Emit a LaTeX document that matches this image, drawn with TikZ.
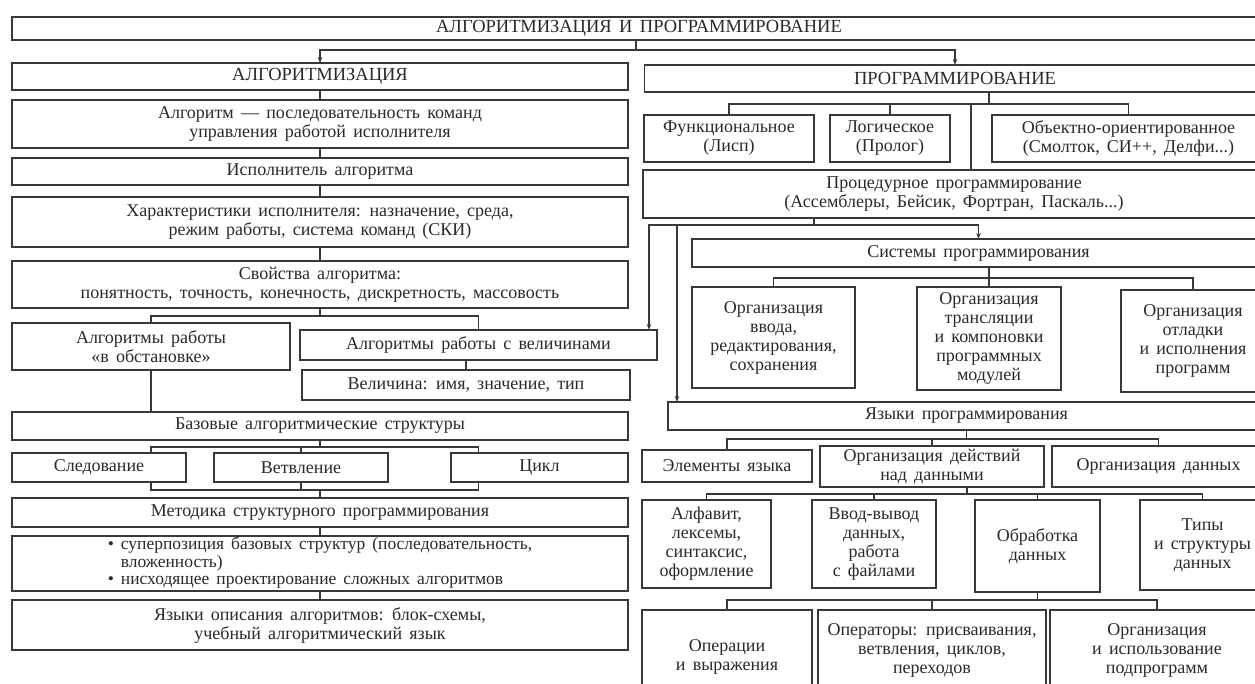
\documentclass[tikz,border=0pt]{standalone}
\usepackage{fontspec}
\setmainfont{Liberation Serif}[WordSpace=1.6]
\usetikzlibrary{arrows.meta}
\definecolor{scline}{HTML}{383838}
\definecolor{sctext}{HTML}{2A2A2A}

\begin{document}
\begin{tikzpicture}[x=1pt, y=-1pt,
  box/.style={draw=scline, line width=1.2pt, fill=white, text=sctext,
              font=\fontsize{18}{19}\selectfont, align=center,
              inner sep=1pt, outer sep=0pt},
  hdr/.style={box, font=\fontsize{18.5}{19}\selectfont},
  link/.style={draw=scline, line width=1.1pt},
  arrow/.style={link, -{Stealth[length=6pt,width=4.5pt]}},
]

  \useasboundingbox (0,0) rectangle (1255,684);
  \clip (0,0) rectangle (1255,684);
  \fill[white] (0,0) rectangle (1255,684);

  %% ── Заголовок ──
  \node[hdr, minimum width=1254, minimum height=23] (top) at (639,28.5)
    {АЛГОРИТМИЗАЦИЯ И ПРОГРАММИРОВАНИЕ};

  %% ── Алгоритмизация (левая колонка) ──
  \node[hdr, minimum width=616, minimum height=27] (alg) at (320,76.5) {АЛГОРИТМИЗАЦИЯ};
  \node[box, minimum width=616, minimum height=48] (def) at (320,124)
    {Алгоритм — последовательность команд\\управления работой исполнителя};
  \node[box, minimum width=616, minimum height=27] (isp) at (320,171.5) {Исполнитель алгоритма};
  \node[box, minimum width=616, minimum height=50] (har) at (320,222)
    {Характеристики исполнителя: назначение, среда,\\режим работы, система команд (СКИ)};
  \node[box, minimum width=616, minimum height=47] (svo) at (320,284.5)
    {Свойства алгоритма:\\понятность, точность, конечность, дискретность, массовость};
  \node[box, minimum width=278, minimum height=47] (obst) at (151,346.5)
    {Алгоритмы работы\\«в обстановке»};
  \node[box, minimum width=357, minimum height=30] (velw) at (478.5,345)
    {Алгоритмы работы с величинами};
  \node[box, minimum width=328, minimum height=30] (vel) at (466,385)
    {Величина: имя, значение, тип};
  \node[box, minimum width=616, minimum height=28] (baz) at (320,426)
    {Базовые алгоритмические структуры};
  \node[box, minimum width=174, minimum height=29] (sled) at (99,467.5) {Следование};
  \node[box, minimum width=174, minimum height=29] (vetv) at (301,467.5) {Ветвление};
  \node[box, minimum width=177, minimum height=29] (cikl) at (539.5,467.5) {Цикл};
  \node[box, minimum width=616, minimum height=29] (met) at (320,512.5)
    {Методика структурного программирования};
  \node[box, minimum width=616, minimum height=55] (sup) at (320,563.5)
    {\fontsize{17.5}{17.5}\selectfont
     \begin{tabular}{@{}l@{ }l@{}}
       • & суперпозиция базовых структур (последовательность,\\
         & вложенность)\\
       • & нисходящее проектирование сложных алгоритмов
     \end{tabular}};
  \node[box, minimum width=616, minimum height=50] (yaz) at (320,625)
    {Языки описания алгоритмов: блок-схемы,\\учебный алгоритмический язык};

  %% ── Программирование (правая колонка) ──
  \node[hdr, minimum width=621, minimum height=27] (prog) at (955,78.5) {ПРОГРАММИРОВАНИЕ};
  \node[box, minimum width=170, minimum height=47] (fun) at (729,138.5) {Функциональное\\(Лисп)};
  \node[box, minimum width=120, minimum height=47] (log) at (890,138.5) {Логическое\\(Пролог)};
  \node[box, minimum width=273, minimum height=47] (obj) at (1128.5,138.5)
    {Объектно-ориентированное\\(Смолток, СИ++, Делфи...)};
  \node[box, minimum width=622, minimum height=48] (proc) at (954,194)
    {Процедурное программирование\\(Ассемблеры, Бейсик, Фортран, Паскаль...)};
  \node[box, minimum width=573, minimum height=28] (sys) at (978.5,253) {Системы программирования};
  \node[box, minimum width=163, minimum height=101] (orgvv) at (773.5,337.5)
    {Организация\\ввода,\\редактирования,\\сохранения};
  \node[box, minimum width=144, minimum height=103] (orgtr) at (989,338.5)
    {Организация\\трансляции\\и компоновки\\программных\\модулей};
  \node[box, minimum width=144, minimum height=102] (orgot) at (1193,341)
    {Организация\\отладки\\и исполнения\\программ};
  \node[box, minimum width=597, minimum height=28] (lang) at (966.5,416) {Языки программирования};
  \node[box, minimum width=170, minimum height=32] (elem) at (727,466) {Элементы языка};
  \node[box, minimum width=224, minimum height=41] (act) at (932,466.5)
    {Организация действий\\над данными};
  \node[box, minimum width=213, minimum height=41] (dat) at (1158.5,466.5) {Организация данных};
  \node[box, minimum width=129, minimum height=88] (alf) at (706.5,544)
    {Алфавит,\\лексемы,\\синтаксис,\\оформление};
  \node[box, minimum width=124, minimum height=88] (io) at (874,544)
    {Ввод-вывод\\данных,\\работа\\с файлами};
  \node[box, minimum width=125, minimum height=92] (obr) at (1037.5,546) {Обработка\\данных};
  \node[box, minimum width=125, minimum height=90] (typ) at (1202.5,545)
    {Типы\\и структуры\\данных};
  \node[box, minimum width=170, minimum height=94] (ops) at (727,657) {Операции\\и выражения};
  \node[box, minimum width=228, minimum height=80] (opr) at (932,650)
    {Операторы: присваивания,\\ветвления, циклов,\\переходов};
  \node[box, minimum width=214, minimum height=80] (orgp) at (1157,650)
    {Организация\\и использование\\подпрограмм};

  %% ── Связи: заголовок ──
  \coordinate (tj) at (636,50);
  \draw[link] (top.south -| tj) -- (tj);
  \draw[arrow] (tj) -| (alg.north);
  \draw[arrow] (tj) -| (prog.north);

  %% ── Связи: левая колонка ──
  \draw[link] (alg.south) -- (def.north);
  \draw[link] (def.south) -- (isp.north);
  \draw[link] (isp.south) -- (har.north);
  \draw[link] (har.south) -- (svo.north);
  \draw[link] (svo.south) -- ++(0,8) coordinate (sj) -| (obst.north);
  \draw[link] (sj) -| (velw.north);
  \draw[link] (vel.north) -- (vel.north |- velw.south);
  \draw[link] (obst.south) -- (obst.south |- baz.north);

  \draw[link] (baz.south) -- ++(0,7) coordinate (bj);
  \draw[link] (sled.north -| obst.south) |- (bj) -| (cikl.north -| velw.south);
  \draw[link] (vetv.north) -- (vetv.north |- bj);
  \path (met.north) ++(0,-8) coordinate (mj);
  \draw[link] (sled.south -| obst.south) |- (mj) -| (cikl.south -| velw.south);
  \draw[link] (vetv.south) -- (vetv.south |- mj);
  \draw[link] (mj) -- (met.north);
  \draw[link] (met.south) -- (sup.north);
  \draw[link] (sup.south) -- (yaz.north);

  %% ── Связи: правая колонка ──
  \coordinate (pj) at (989,104);
  \draw[link] (prog.south -| pj) -- (pj);
  \draw[link] (fun.north) |- (pj) -| (obj.north);
  \draw[link] (log.north) -- (log.north |- pj);
  \draw[link] (pj -| 971,0) -- (proc.north -| 971,0);

  \coordinate (rj) at (814,225);
  \draw[link] (proc.south -| rj) -- (rj);
  \draw[arrow] (rj) -| (sys.north);
  \draw[arrow] (rj) -| (velw.north -| 649,0);
  \draw[arrow] (rj -| 677,0) -- (lang.north -| 677,0);

  \draw[link] (sys.south -| orgtr.north) -- (orgtr.north);
  \draw[link] (orgtr.north) ++(0,-9) coordinate (oj) -| (orgot.north);
  \draw[link] (orgvv.north) |- (oj);

  \draw[link] (lang.south) -- ++(0,9) coordinate (lj);
  \draw[link] (elem.north) |- (lj) -| (dat.north);
  \draw[link] (act.north) -- (act.north |- lj);

  \coordinate (aj) at (967,494);
  \draw[link] (act.south -| aj) -- (aj);
  \draw[link] (alf.north) |- (aj) -| (typ.north);
  \draw[link] (io.north) -- (io.north |- aj);
  \draw[link] (obr.north) -- (obr.north |- aj);

  \draw[link] (obr.south) -- ++(0,8) coordinate (dj);
  \draw[link] (ops.north) |- (dj) -| (orgp.north);
  \draw[link] (opr.north) -- (opr.north |- dj);

\end{tikzpicture}
\end{document}
